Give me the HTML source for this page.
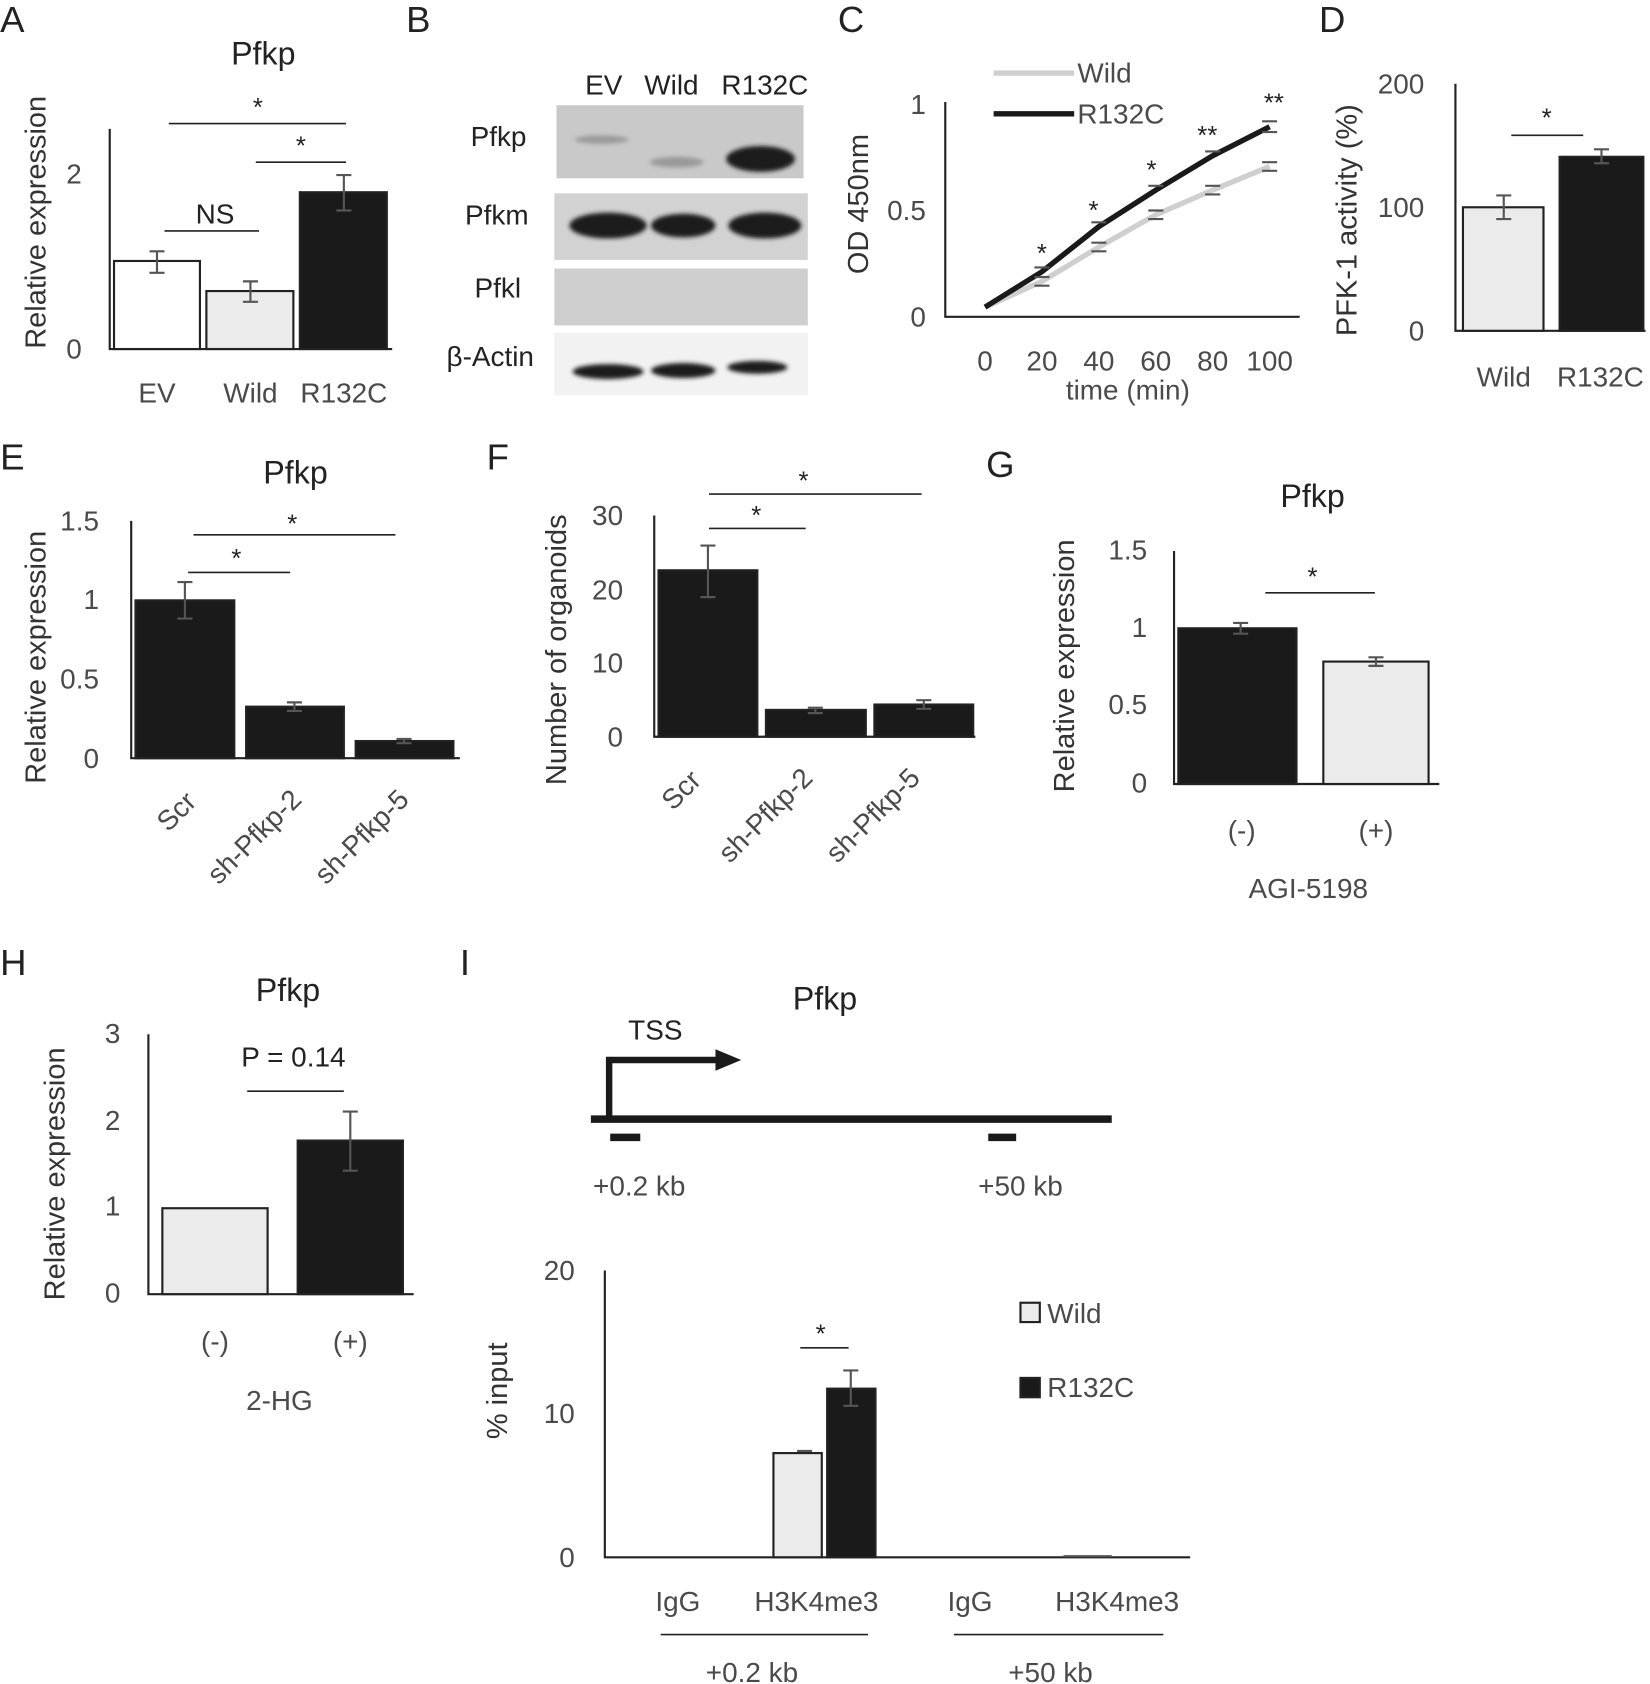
<!DOCTYPE html>
<html><head><style>html,body{margin:0;padding:0;background:#fff}svg{display:block}</style></head>
<body>
<svg width="1650" height="1684" viewBox="0 0 1536 1568" xmlns="http://www.w3.org/2000/svg" font-family="Liberation Sans, sans-serif">
<defs><filter id="bl"><feGaussianBlur stdDeviation="2"/></filter></defs>
<g font-size="34" fill="#222">
<text x="0" y="30">A</text><text x="378" y="30">B</text><text x="780" y="30">C</text><text x="1228" y="30">D</text>
<text x="0" y="437">E</text><text x="453" y="437">F</text><text x="918" y="444">G</text><text x="0" y="908">H</text><text x="428" y="908">I</text>
</g>
<g fill="#222" font-size="30" text-anchor="middle">
<text x="245" y="60">Pfkp</text><text x="275" y="450">Pfkp</text><text x="1222" y="472">Pfkp</text><text x="268" y="932">Pfkp</text><text x="768" y="940">Pfkp</text>
</g>
<g stroke="#222" stroke-width="2" fill="none">
<path d="M102 120V325H365"/>
<path d="M880 95V295H1210"/>
<path d="M1355 78V308H1532"/>
<path d="M122 485V706H428"/>
<path d="M609 480V686H908"/>
<path d="M1093 513V730H1340"/>
<path d="M138 963V1205H385"/>
<path d="M563 1183V1450H1108"/>
</g>
<g font-size="26" fill="#4a4a4a">
<g text-anchor="end"><text x="76" y="171">2</text><text x="76" y="334">0</text>
<text x="862" y="106">1</text><text x="862" y="205">0.5</text><text x="862" y="304">0</text>
<text x="1326" y="87">200</text><text x="1326" y="202">100</text><text x="1326" y="317">0</text>
<text x="92" y="494">1.5</text><text x="92" y="567">1</text><text x="92" y="641">0.5</text><text x="92" y="715">0</text>
<text x="580" y="489">30</text><text x="580" y="558">20</text><text x="580" y="626">10</text><text x="580" y="695">0</text>
<text x="1068" y="521">1.5</text><text x="1068" y="593">1</text><text x="1068" y="665">0.5</text><text x="1068" y="738">0</text>
<text x="112" y="971">3</text><text x="112" y="1052">2</text><text x="112" y="1132">1</text><text x="112" y="1213">0</text>
<text x="535" y="1192">20</text><text x="535" y="1325">10</text><text x="535" y="1459">0</text></g>
<g text-anchor="middle">
<text x="146" y="375">EV</text><text x="233" y="375">Wild</text><text x="320" y="375">R132C</text>
<text x="917" y="345">0</text><text x="970" y="345">20</text><text x="1023" y="345">40</text><text x="1076" y="345">60</text><text x="1129" y="345">80</text><text x="1182" y="345">100</text>
<text x="1050" y="372">time (min)</text>
<text x="1400" y="360">Wild</text><text x="1490" y="360">R132C</text>
<text x="1156" y="782">(-)</text><text x="1281" y="782">(+)</text><text x="1218" y="836">AGI-5198</text>
<text x="200" y="1258">(-)</text><text x="326" y="1258">(+)</text><text x="260" y="1313">2-HG</text>
<text x="631" y="1500">IgG</text><text x="760" y="1500">H3K4me3</text><text x="903" y="1500">IgG</text><text x="1040" y="1500">H3K4me3</text>
<text x="700" y="1566">+0.2 kb</text><text x="978" y="1566">+50 kb</text>
<text x="595" y="1113">+0.2 kb</text><text x="950" y="1113">+50 kb</text>
</g>
<text x="1003" y="77">Wild</text><text x="1003" y="115">R132C</text>
<text x="975" y="1232">Wild</text><text x="975" y="1301">R132C</text>
<g transform="translate(184,748) rotate(-45)" text-anchor="end"><text>Scr</text></g>
<g transform="translate(282,746) rotate(-45)" text-anchor="end"><text>sh-Pfkp-2</text></g>
<g transform="translate(382,746) rotate(-45)" text-anchor="end"><text>sh-Pfkp-5</text></g>
<g transform="translate(654,728) rotate(-45)" text-anchor="end"><text>Scr</text></g>
<g transform="translate(758,726) rotate(-45)" text-anchor="end"><text>sh-Pfkp-2</text></g>
<g transform="translate(858,726) rotate(-45)" text-anchor="end"><text>sh-Pfkp-5</text></g>
</g>
<g font-size="27" fill="#333" text-anchor="middle">
<text transform="translate(42,207) rotate(-90)">Relative expression</text>
<text transform="translate(808,190) rotate(-90)">OD 450nm</text>
<text transform="translate(1263,205) rotate(-90)">PFK-1 activity (%)</text>
<text transform="translate(42,612) rotate(-90)">Relative expression</text>
<text transform="translate(527,605) rotate(-90)">Number of organoids</text>
<text transform="translate(1000,620) rotate(-90)">Relative expression</text>
<text transform="translate(60,1093) rotate(-90)">Relative expression</text>
<text transform="translate(472,1295) rotate(-90)">% input</text>
</g>
<g stroke="#222" stroke-width="2">
<rect x="106" y="243" width="80" height="82" fill="#fff"/>
<rect x="192" y="271" width="81" height="54" fill="#ebebeb"/>
<rect x="279" y="179" width="81" height="146" fill="#1a1a1a"/>
<rect x="1362" y="193" width="75" height="115" fill="#ebebeb"/>
<rect x="1452" y="146" width="78" height="162" fill="#1a1a1a"/>
<rect x="126" y="559" width="92" height="147" fill="#1a1a1a"/>
<rect x="229" y="658" width="91" height="48" fill="#1a1a1a"/>
<rect x="331" y="690" width="91" height="16" fill="#1a1a1a"/>
<rect x="613" y="531" width="92" height="155" fill="#1a1a1a"/>
<rect x="713" y="661" width="93" height="25" fill="#1a1a1a"/>
<rect x="814" y="656" width="92" height="30" fill="#1a1a1a"/>
<rect x="1097" y="585" width="110" height="145" fill="#1a1a1a"/>
<rect x="1232" y="616" width="98" height="114" fill="#ebebeb"/>
<rect x="151" y="1125" width="98" height="80" fill="#ebebeb"/>
<rect x="277" y="1062" width="98" height="143" fill="#1a1a1a"/>
<rect x="720" y="1353" width="45" height="97" fill="#ebebeb"/>
<rect x="770" y="1293" width="45" height="157" fill="#1a1a1a"/>
<rect x="950" y="1213" width="18" height="18" fill="#ebebeb"/>
<rect x="950" y="1283" width="18" height="18" fill="#1a1a1a"/>
</g>
<g stroke="#555" stroke-width="2" fill="none">
<path d="M146 234V254M139 234H153M139 254H153"/>
<path d="M233 262V281M226 262H240M226 281H240"/>
<path d="M320 163V196M313 163H327M313 196H327"/>
<path d="M1400 182V204M1393 182H1407M1393 204H1407"/>
<path d="M1491 139V152M1484 139H1498M1484 152H1498"/>
<path d="M172 542V576M165 542H179M165 576H179"/>
<path d="M274 654V662M267 654H281M267 662H281"/>
<path d="M376 688V692M369 688H383M369 692H383"/>
<path d="M659 508V556M652 508H666M652 556H666"/>
<path d="M759 659V664M752 659H766M752 664H766"/>
<path d="M860 652V660M853 652H867M853 660H867"/>
<path d="M1155 580V590M1148 580H1162M1148 590H1162"/>
<path d="M1281 612V620M1274 612H1288M1274 620H1288"/>
<path d="M326 1035V1090M319 1035H333M319 1090H333"/>
<path d="M792 1276V1309M785 1276H799M785 1309H799"/>
<path d="M742 1351H756"/>
</g>
<g stroke="#222" stroke-width="1.5">
<path d="M157 115H322M238 151H322M153 215H241M1407 126H1474M175 533H270M180 498H368M660 492H750M660 460H858M1178 552H1280M230 1016H320M745 1255H790"/>
<path d="M615 1522H808M888 1522H1083"/>
</g>
<g font-size="24" fill="#222" text-anchor="middle">
<text x="240" y="108">*</text><text x="280" y="144">*</text><text x="1440" y="118">*</text>
<text x="220" y="528">*</text><text x="272" y="496">*</text><text x="704" y="488">*</text><text x="748" y="456">*</text>
<text x="1222" y="545">*</text><text x="764" y="1250">*</text>
<text x="970" y="244">*</text><text x="1018" y="204">*</text><text x="1072" y="166">*</text><text x="1124" y="134">**</text><text x="1186" y="104">**</text>
</g>
<text x="200" y="208" font-size="26" fill="#222" text-anchor="middle">NS</text>
<text x="273" y="993" font-size="26" fill="#222" text-anchor="middle">P = 0.14</text>
<polyline points="917,286 970,262 1023,230 1076,200 1129,177 1182,155" fill="none" stroke="#cfcfcf" stroke-width="5"/>
<polyline points="917,286 970,253 1023,211 1076,177 1129,145 1182,118" fill="none" stroke="#1a1a1a" stroke-width="5"/>
<g stroke="#555" stroke-width="2"><path d="M963 258H977M963 266H977M1016 226H1030M1016 234H1030M1069 196H1083M1069 204H1083M1122 173H1136M1122 181H1136M1175 151H1189M1175 159H1189M963 249H977M1016 207H1030M1069 173H1083M1122 141H1136M1175 113H1189M1175 123H1189"/></g>
<path d="M925 68H1000" stroke="#cfcfcf" stroke-width="5"/>
<path d="M925 106H1000" stroke="#1a1a1a" stroke-width="5"/>
<g font-size="26" fill="#222">
<text x="562" y="88" text-anchor="middle">EV</text><text x="625" y="88" text-anchor="middle">Wild</text><text x="712" y="88" text-anchor="middle">R132C</text>
<g text-anchor="end"><text x="490" y="136">Pfkp</text><text x="492" y="209">Pfkm</text><text x="485" y="277">Pfkl</text><text x="497" y="341">β-Actin</text></g>
</g>
<rect x="518" y="98" width="230" height="68" fill="#c9c9c9"/>
<rect x="516" y="180" width="236" height="62" fill="#d2d2d2"/>
<rect x="516" y="250" width="236" height="53" fill="#cfcfcf"/>
<rect x="516" y="310" width="236" height="58" fill="#f2f2f2"/>
<g filter="url(#bl)" fill="#1a1a1a">
<ellipse cx="560" cy="130" rx="25" ry="4" fill="#9a9a9a"/>
<ellipse cx="630" cy="151" rx="25" ry="5" fill="#999"/>
<ellipse cx="708" cy="148" rx="32" ry="12"/>
<ellipse cx="566" cy="210" rx="36" ry="12"/>
<ellipse cx="636" cy="210" rx="30" ry="11"/>
<ellipse cx="712" cy="210" rx="34" ry="12"/>
<ellipse cx="566" cy="346" rx="33" ry="7"/>
<ellipse cx="636" cy="345" rx="30" ry="7"/>
<ellipse cx="705" cy="342" rx="28" ry="6"/>
</g>
<text x="610" y="968" font-size="26" fill="#222" text-anchor="middle">TSS</text>
<path d="M550 1042H1035" stroke="#1a1a1a" stroke-width="7"/>
<path d="M567 1042V987H670" stroke="#1a1a1a" stroke-width="6" fill="none"/>
<polygon points="666,977 690,987 666,997" fill="#1a1a1a"/>
<path d="M568 1059H596M920 1059H946" stroke="#1a1a1a" stroke-width="7"/>
<path d="M990 1449H1035" stroke="#555" stroke-width="2"/>
</svg>
</body></html>
